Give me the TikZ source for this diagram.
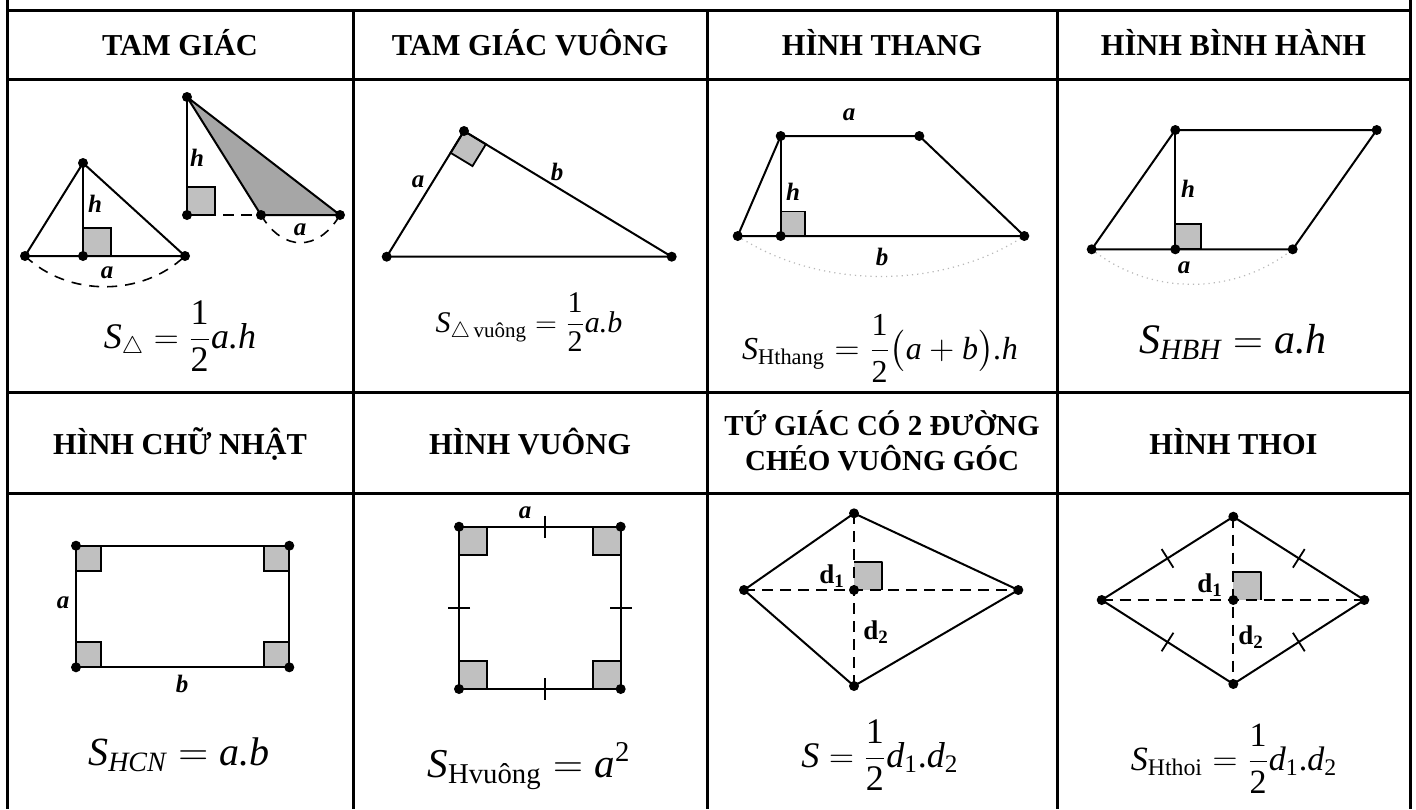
\documentclass[tikz,border=0pt]{standalone}
\usepackage{amsmath}
\usepackage{fontspec}
\setmainfont{Liberation Serif}
\usetikzlibrary{calc}
\definecolor{sqgray}{HTML}{C0C0C0}
\definecolor{trigray}{HTML}{A6A6A6}
\definecolor{arcgray}{HTML}{B8B8B8}
\newcommand{\iv}[1]{\text{\itshape #1}}
\newcommand{\rv}[1]{\text{\upshape #1}}
\begin{document}
\begin{tikzpicture}[x=0.5pt,y=-0.5pt,
  grid/.style={line width=1.5pt},
  shp/.style={line width=1pt, line join=round},
  ra/.style={fill=sqgray, draw=black, line width=0.9pt},
  hdr/.style={font=\fontsize{15.2}{17}\selectfont\bfseries, align=center, inner sep=0pt},
  lbl/.style={font=\fontsize{12.5}{14}\selectfont\bfseries\itshape, inner sep=0pt},
  dlbl/.style={font=\fontsize{13.5}{15}\selectfont\bfseries, inner sep=0pt},
  dsh/.style={shp, dash pattern=on 5.5pt off 3.5pt},
  arcd/.style={line width=0.8pt, dash pattern=on 5pt off 4pt},
  arcp/.style={draw=arcgray, line width=0.6pt, dotted},
  fm/.style={anchor=base, inner sep=0pt},
  tick/.style={line width=0.9pt}
]
\useasboundingbox (0,0) rectangle (1416,809);
\fill[white] (0,0) rectangle (1416,809);

% ---------- table grid ----------
\coordinate (gl0) at (7,0);   \coordinate (gl1) at (7,809);
\coordinate (gr0) at (1410,0); \coordinate (gr1) at (1410,809);
\draw[grid] (gl0) -- (gl1);
\draw[grid] (gr0) -- (gr1);
\foreach \xx in {353,707,1057} \draw[grid] (\xx,10) -- (\xx,809);
\foreach \yy in {10,79,392,493} \draw[grid] (7,\yy) -- (1410,\yy);

% ---------- headers ----------
\node[hdr, anchor=base] (h1) at (180,55) {TAM GIÁC};
\node[hdr, anchor=base] (h2) at (530,55) {TAM GIÁC VUÔNG};
\node[hdr, anchor=base] (h3) at (882,55) {HÌNH THANG};
\node[hdr, anchor=base] (h4) at (1233.5,55) {HÌNH BÌNH HÀNH};
\node[hdr, anchor=base] (h5) at (180,454) {HÌNH CHỮ NHẬT};
\node[hdr, anchor=base] (h6) at (530,454) {HÌNH VUÔNG};
\node[hdr, anchor=base, font=\fontsize{14.5}{16.5}\selectfont\bfseries] (h7) at (882,435)
  {\begin{tabular}[t]{@{}c@{}}TỨ GIÁC CÓ 2 ĐƯỜNG\\CHÉO VUÔNG GÓC\end{tabular}};
\node[hdr, anchor=base] (h8) at (1233.5,454) {HÌNH THOI};

% ---------- cell 1: triangles ----------
\coordinate (A1) at (25,256);
\coordinate (B1) at (83,163);
\coordinate (C1) at (185,256);
\coordinate (H1) at (83,256);
\draw[ra] (H1) rectangle ++(28,-28);
\draw[shp] (A1) -- (B1) -- (C1) -- cycle;
\draw[shp] (B1) -- (H1);
\draw[arcd] (A1) .. controls (68,297) and (142,297) .. (C1);
\foreach \p in {A1,B1,C1,H1} \fill (\p) circle (2.5pt);
\node[lbl] (lh1) at (95,204) {h};
\node[lbl] (la1) at (107,273) {a};

\coordinate (T2) at (187,97);
\coordinate (F2) at (187,215);
\coordinate (P2) at (261,215);
\coordinate (Q2) at (340,215);
\fill[trigray] (T2) -- (P2) -- (Q2) -- cycle;
\draw[ra] (F2) rectangle ++(28,-28);
\draw[shp] (T2) -- (P2) -- (Q2) -- cycle;
\draw[shp] (T2) -- (F2);
\draw[arcd, dash pattern=on 5.5pt off 3.5pt] (F2) -- (P2);
\draw[arcd] (P2) .. controls (283,252) and (318,252) .. (Q2);
\foreach \p in {T2,F2,P2,Q2} \fill (\p) circle (2.5pt);
\node[lbl] (lh2) at (197,158) {h};
\node[lbl] (la2) at (300,230) {a};

\node[fm, font=\fontsize{18}{20}\selectfont] (f1) at (180,348)
  {$\iv{S}_{\triangle}=\dfrac{\rv{1}}{\rv{2}}\iv{a.h}$};

% ---------- cell 2: right triangle ----------
\coordinate (V) at (464,131);
\coordinate (L) at (386.7,256.7);
\coordinate (R) at (671.7,256.7);
\coordinate (S1) at ($(V)!12.8pt!(L)$);
\coordinate (S3) at ($(V)!12.8pt!(R)$);
\coordinate (S2) at ($(S1)+(S3)-(V)$);
\draw[ra] (V) -- (S1) -- (S2) -- (S3) -- cycle;
\draw[shp] (V) -- (L) -- (R) -- cycle;
\foreach \p in {V,L,R} \fill (\p) circle (2.5pt);
\node[lbl] (la3) at (418,182) {a};
\node[lbl] (lb3) at (557,172) {b};
\node[fm, font=\fontsize{15}{17}\selectfont] (f2) at (529,332)
  {$\iv{S}_{\triangle\,\rv{vuông}}=\dfrac{\rv{1}}{\rv{2}}\iv{a.b}$};

% ---------- cell 3: trapezoid ----------
\coordinate (TL) at (780.7,136);
\coordinate (TR) at (919.3,136);
\coordinate (BL) at (737.7,236);
\coordinate (BR) at (1024.3,236);
\coordinate (FT) at (780.7,236);
\draw[ra] (FT) rectangle ++(24.5,-24.5);
\draw[shp] (BL) -- (TL) -- (TR) -- (BR) -- cycle;
\draw[shp] (TL) -- (FT);
\draw[arcp] (BL) .. controls (820,290) and (942,290) .. (BR);
\foreach \p in {TL,TR,BL,BR,FT} \fill (\p) circle (2.5pt);
\node[lbl] (la4) at (849,115) {a};
\node[lbl] (lh4) at (793,192) {h};
\node[lbl] (lb4) at (882,257) {b};
\node[fm, font=\fontsize{16}{18}\selectfont] (f3) at (880,359)
  {$\iv{S}_{\rv{Hthang}}=\dfrac{\rv{1}}{\rv{2}}\bigl(\iv{a}+\iv{b}\bigr)\iv{.h}$};

% ---------- cell 4: parallelogram ----------
\coordinate (PTL) at (1175.3,130);
\coordinate (PTR) at (1376.7,130);
\coordinate (PBL) at (1091.7,249.3);
\coordinate (PBR) at (1292.7,249.3);
\coordinate (PF) at (1175.3,249.3);
\draw[ra] (PF) rectangle ++(26,-25.5);
\draw[shp] (PBL) -- (PTL) -- (PTR) -- (PBR) -- cycle;
\draw[shp] (PTL) -- (PF);
\draw[arcp] (PBL) .. controls (1150,296) and (1234,296) .. (PBR);
\foreach \p in {PTL,PTR,PBL,PBR,PF} \fill (\p) circle (2.5pt);
\node[lbl] (lh5) at (1188,189) {h};
\node[lbl] (la5) at (1184,268) {a};
\node[fm, font=\fontsize{21}{23}\selectfont] (f4) at (1233,353)
  {$\iv{S}_{\iv{HBH}}=\iv{a.h}$};

% ---------- cell 5: rectangle ----------
\coordinate (R1) at (76,545.7);
\coordinate (R2) at (289.3,545.7);
\coordinate (R3) at (289.3,667.3);
\coordinate (R4) at (76,667.3);
\draw[ra] (R1) rectangle ++(25,25);
\draw[ra] (R2) rectangle ++(-25,25);
\draw[ra] (R3) rectangle ++(-25,-25);
\draw[ra] (R4) rectangle ++(25,-25);
\draw[shp] (R1) -- (R2) -- (R3) -- (R4) -- cycle;
\foreach \p in {R1,R2,R3,R4} \fill (\p) circle (2.5pt);
\node[lbl] (la6) at (63,603) {a};
\node[lbl] (lb6) at (182,684) {b};
\node[fm, font=\fontsize{20}{22}\selectfont] (f5) at (179,765)
  {$\iv{S}_{\iv{HCN}}=\iv{a.b}$};

% ---------- cell 6: square ----------
\coordinate (Q1) at (459,526.7);
\coordinate (Q2) at (620.7,526.7);
\coordinate (Q3) at (620.7,689);
\coordinate (Q4) at (459,689);
\draw[ra] (Q1) rectangle ++(28,28);
\draw[ra] (Q2) rectangle ++(-28,28);
\draw[ra] (Q3) rectangle ++(-28,-28);
\draw[ra] (Q4) rectangle ++(28,-28);
\draw[shp] (Q1) -- (Q2) -- (Q3) -- (Q4) -- cycle;
\draw[tick] ($(Q1)!0.53!(Q2)!5.5pt!90:(Q2)$) -- ($(Q1)!0.53!(Q2)!5.5pt!-90:(Q2)$);
\draw[tick] ($(Q4)!0.53!(Q3)!5.5pt!90:(Q3)$) -- ($(Q4)!0.53!(Q3)!5.5pt!-90:(Q3)$);
\draw[tick] ($(Q1)!0.5!(Q4)!5.5pt!90:(Q4)$) -- ($(Q1)!0.5!(Q4)!5.5pt!-90:(Q4)$);
\draw[tick] ($(Q2)!0.5!(Q3)!5.5pt!90:(Q3)$) -- ($(Q2)!0.5!(Q3)!5.5pt!-90:(Q3)$);
\foreach \p in {Q1,Q2,Q3,Q4} \fill (\p) circle (2.5pt);
\node[lbl] (la7) at (525,513) {a};
\node[fm, font=\fontsize{20.5}{22}\selectfont] (f6) at (529,777)
  {$\iv{S}_{\rv{Hvuông}}=\iv{a}^{\rv{2}}$};

% ---------- cell 7: kite ----------
\coordinate (KT) at (854,513.3);
\coordinate (KL) at (744,590);
\coordinate (KR) at (1018.3,590);
\coordinate (KB) at (854,686);
\coordinate (KC) at (854,590);
\fill[sqgray] (KC) rectangle ++(28,-28);
\draw[shp] ($(KC)+(0,-28)$) -- ++(28,0) -- ++(0,28);
\draw[dsh] (KL) -- (KR);
\draw[dsh] (KT) -- (KB);
\draw[shp] (KT) -- (KR) -- (KB) -- (KL) -- cycle;
\foreach \p in {KT,KL,KR,KB,KC} \fill (\p) circle (2.5pt);
\node[dlbl] (d71) at (832,576) {d$_{\textbf{1}}$};
\node[dlbl] (d72) at (876,632) {d$_{\textbf{2}}$};
\node[fm, font=\fontsize{18}{20}\selectfont] (f7) at (880,767)
  {$\iv{S}=\dfrac{\rv{1}}{\rv{2}}\iv{d}_{\rv{1}}\rv{.}\iv{d}_{\rv{2}}$};

% ---------- cell 8: rhombus ----------
\coordinate (MT) at (1233.3,516.7);
\coordinate (ML) at (1101.7,600);
\coordinate (MR) at (1364.3,600);
\coordinate (MB) at (1233.3,684);
\coordinate (MC) at (1233.3,600);
\fill[sqgray] (MC) rectangle ++(28,-28);
\draw[shp] ($(MC)+(0,-28)$) -- ++(28,0) -- ++(0,28);
\draw[dsh] (ML) -- (MR);
\draw[dsh] (MT) -- (MB);
\draw[shp] (MT) -- (MR) -- (MB) -- (ML) -- cycle;
\draw[tick] ($(ML)!0.5!(MT)!5.5pt!90:(MT)$) -- ($(ML)!0.5!(MT)!5.5pt!-90:(MT)$);
\draw[tick] ($(MT)!0.5!(MR)!5.5pt!90:(MR)$) -- ($(MT)!0.5!(MR)!5.5pt!-90:(MR)$);
\draw[tick] ($(MR)!0.5!(MB)!5.5pt!90:(MB)$) -- ($(MR)!0.5!(MB)!5.5pt!-90:(MB)$);
\draw[tick] ($(MB)!0.5!(ML)!5.5pt!90:(ML)$) -- ($(MB)!0.5!(ML)!5.5pt!-90:(ML)$);
\foreach \p in {MT,ML,MR,MB,MC} \fill (\p) circle (2.5pt);
\node[dlbl] (d81) at (1210,585) {d$_{\textbf{1}}$};
\node[dlbl] (d82) at (1251,637) {d$_{\textbf{2}}$};
\node[fm, font=\fontsize{17}{19}\selectfont] (f8) at (1234,770)
  {$\iv{S}_{\rv{Hthoi}}=\dfrac{\rv{1}}{\rv{2}}\iv{d}_{\rv{1}}\rv{.}\iv{d}_{\rv{2}}$};
\end{tikzpicture}
\end{document}
